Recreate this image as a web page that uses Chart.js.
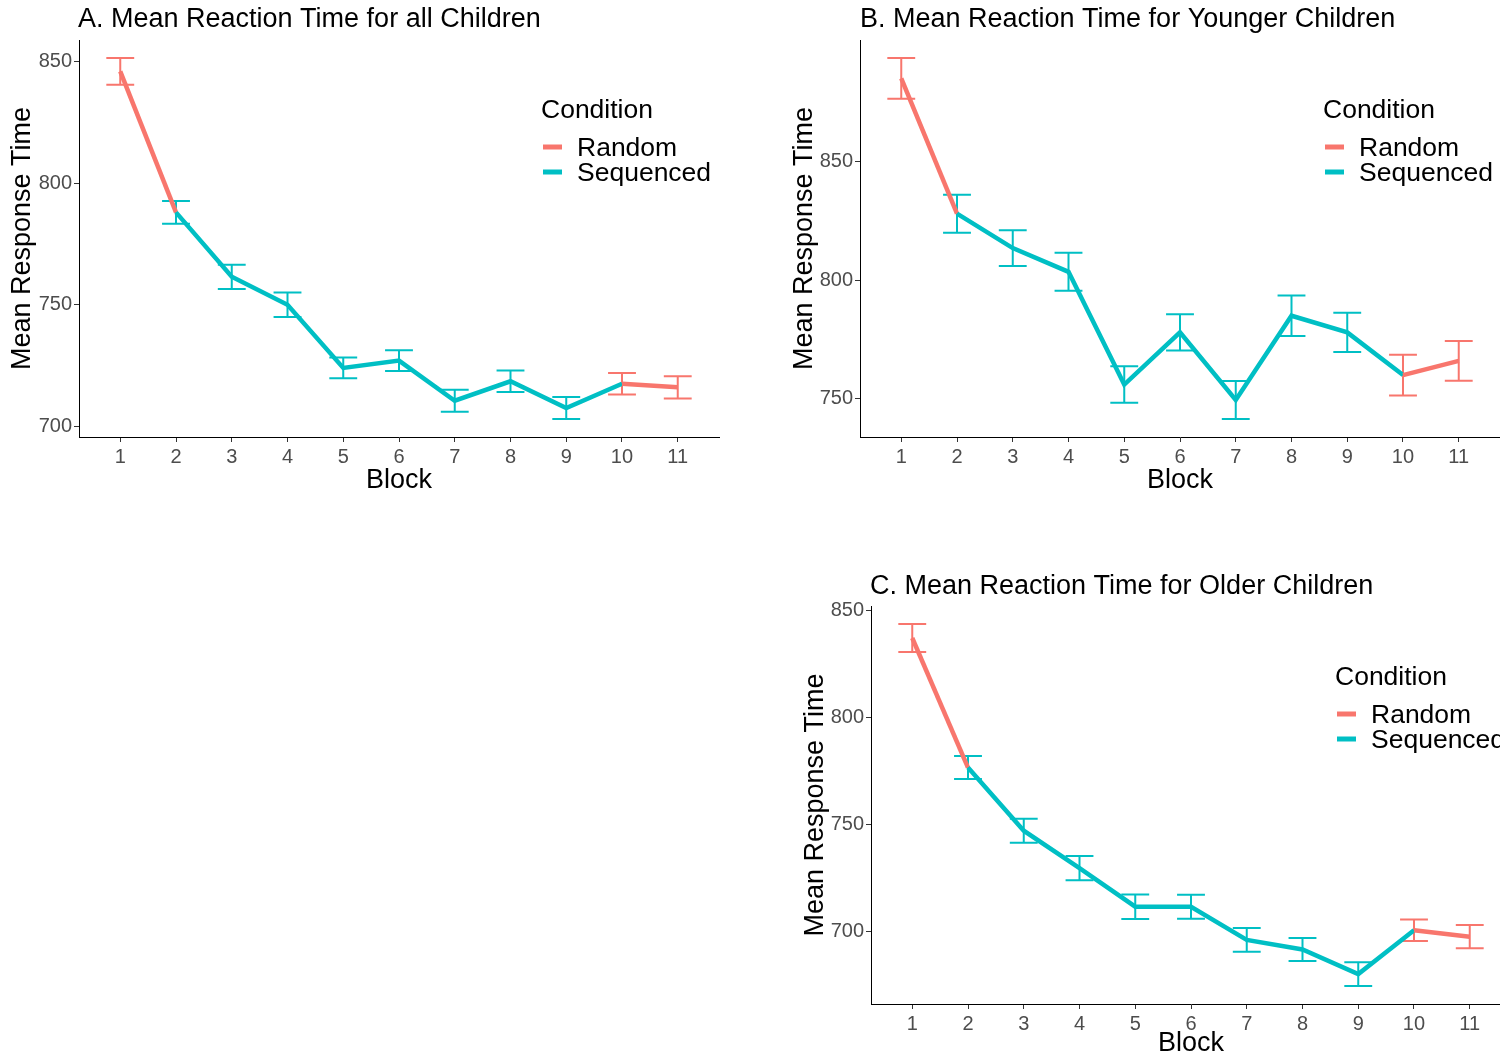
<!DOCTYPE html>
<html>
<head>
<meta charset="utf-8">
<script src="https://cdn.jsdelivr.net/npm/chart.js@4.4.1/dist/chart.umd.min.js"></script>
<style>
  html, body { margin: 0; padding: 0; background: #fff; overflow: hidden; }
  body { width: 1500px; height: 1060px; position: relative; }
  canvas { position: absolute; }
</style>
</head>
<body>
<canvas id="chartA" width="740" height="500" style="left:0px;top:0px;width:740px;height:500px"></canvas>
<canvas id="chartB" width="720" height="500" style="left:780px;top:0px;width:720px;height:500px"></canvas>
<canvas id="chartC" width="740" height="500" style="left:790px;top:560px;width:740px;height:500px"></canvas>
<script>
const blocks = [1, 2, 3, 4, 5, 6, 7, 8, 9, 10, 11]
const condition = ["Random", "Sequenced", "Sequenced", "Sequenced", "Sequenced", "Sequenced",
  "Sequenced", "Sequenced", "Sequenced", "Random", "Random"]

// A. all children
const allMean = [846, 788, 761.5, 750, 724, 727, 710.5, 718.5, 707.5, 717.5, 716]
const allSE = [5.5, 4.7, 5, 5, 4.3, 4.3, 4.5, 4.4, 4.5, 4.4, 4.6]
const allTicks = [700, 750, 800, 850]

// B. younger children
const youngerMean = [885, 828, 813.5, 803.5, 756, 778, 749.5, 785, 778, 760, 766]
const youngerSE = [8.6, 8, 7.5, 8, 7.7, 7.6, 8, 8.5, 8.3, 8.6, 8.4]
const youngerTicks = [750, 800, 850]

// C. older children
const olderMean = [837, 776.5, 747, 729.5, 711.5, 711.5, 696, 691.5, 680, 700.5, 697.5]
const olderSE = [6.5, 5.4, 5.6, 5.7, 5.7, 5.6, 5.5, 5.4, 5.5, 5, 5.4]
const olderTicks = [700, 750, 800, 850]

const conditionColors = { Random: "#F8766D", Sequenced: "#00BFC4" }
const FONT = "'Liberation Sans', Arial, sans-serif"

const ggExtras = {
  id: "ggExtras",
  beforeDatasetsDraw(chart) {
    const { ctx, scales: { x, y } } = chart
    const ds = chart.data.datasets[0]
    ctx.save()
    ctx.lineWidth = 2
    ds.data.forEach((p, i) => {
      const se = ds.se[i]
      const xc = x.getPixelForValue(p.x)
      const x0 = x.getPixelForValue(p.x - 0.25)
      const x1 = x.getPixelForValue(p.x + 0.25)
      const yt = y.getPixelForValue(p.y + se)
      const yb = y.getPixelForValue(p.y - se)
      ctx.strokeStyle = conditionColors[condition[i]]
      ctx.beginPath()
      ctx.moveTo(x0, yt); ctx.lineTo(x1, yt)
      ctx.moveTo(xc, yt); ctx.lineTo(xc, yb)
      ctx.moveTo(x0, yb); ctx.lineTo(x1, yb)
      ctx.stroke()
    })
    ctx.restore()
  },
  afterDraw(chart, args, opts) {
    const { ctx } = chart
    ctx.save()
    ctx.fillStyle = "#000"
    ctx.textBaseline = "middle"
    ctx.textAlign = "left"
    ctx.font = "27px " + FONT
    ctx.fillText(opts.title, opts.titleX, opts.titleY)

    ctx.font = "26.5px " + FONT
    ctx.fillText("Condition", opts.legendX, opts.legendY)
    Object.keys(conditionColors).forEach((name, i) => {
      const ly = opts.legendY + 38 + i * 25
      ctx.strokeStyle = conditionColors[name]
      ctx.lineWidth = 5
      ctx.beginPath()
      ctx.moveTo(opts.legendX + 2, ly - 2)
      ctx.lineTo(opts.legendX + 21, ly - 2)
      ctx.stroke()
      ctx.fillText(name, opts.legendX + 36, ly)
    })
    ctx.restore()
  }
}

function makeChart(id, mean, se, ticks, cfg) {
  const lo = Math.min(...mean.map((m, i) => m - se[i]))
  const hi = Math.max(...mean.map((m, i) => m + se[i]))
  const pad = (hi - lo) * 0.05
  const el = document.getElementById(id)
  const W = el.width, H = el.height

  return new Chart(el.getContext("2d"), {
    type: "line",
    data: {
      datasets: [{
        data: blocks.map((b, i) => ({ x: b, y: mean[i] })),
        se: se,
        borderWidth: 4.5,
        borderColor: conditionColors.Sequenced,
        pointRadius: 0,
        tension: 0,
        segment: {
          borderColor: c => conditionColors[condition[c.p0DataIndex]]
        }
      }]
    },
    options: {
      responsive: false,
      animation: false,
      layout: { padding: { top: cfg.top, right: W - cfg.right, left: 0, bottom: 0 } },
      plugins: {
        legend: { display: false },
        tooltip: { enabled: false },
        title: { display: false },
        ggExtras: cfg.extras
      },
      scales: {
        x: {
          type: "linear",
          min: 0.26,
          max: 11.74,
          afterBuildTicks: s => { s.ticks = blocks.map(v => ({ value: v })) },
          afterFit: s => { s.height = H - cfg.bottom },
          ticks: { color: "#4D4D4D", font: { family: FONT, size: 20 }, padding: 3 },
          grid: { drawOnChartArea: false, tickLength: 5, tickColor: "#333", tickWidth: 1 },
          border: { color: "#000", width: 1 },
          title: { display: true, text: "Block", color: "#000", font: { family: FONT, size: 27 }, padding: { top: 0, bottom: cfg.xTitlePad } }
        },
        y: {
          min: lo - pad,
          max: hi + pad,
          afterBuildTicks: s => { s.ticks = ticks.map(v => ({ value: v })) },
          afterFit: s => { s.width = cfg.left },
          ticks: { color: "#4D4D4D", font: { family: FONT, size: 20 }, padding: 2 },
          grid: { drawOnChartArea: false, tickLength: 5, tickColor: "#333", tickWidth: 1 },
          border: { color: "#000", width: 1 },
          title: { display: true, text: "Mean Response Time", color: "#000", font: { family: FONT, size: 27 }, padding: { top: cfg.yTitlePad, bottom: 0 } }
        }
      }
    },
    plugins: [ggExtras]
  })
}

makeChart("chartA", allMean, allSE, allTicks, {
  left: 79, right: 719, top: 40, bottom: 437, xTitlePad: 3, yTitlePad: 6,
  extras: { title: "A. Mean Reaction Time for all Children", titleX: 78, titleY: 20, legendX: 541, legendY: 111 }
})

makeChart("chartB", youngerMean, youngerSE, youngerTicks, {
  left: 80, right: 720, top: 40, bottom: 437, xTitlePad: 3, yTitlePad: 8,
  extras: { title: "B. Mean Reaction Time for Younger Children", titleX: 80, titleY: 20, legendX: 543, legendY: 111 }
})

makeChart("chartC", olderMean, olderSE, olderTicks, {
  left: 81, right: 721, top: 46, bottom: 444, xTitlePad: 0, yTitlePad: 9,
  extras: { title: "C. Mean Reaction Time for Older Children", titleX: 80, titleY: 27, legendX: 545, legendY: 118 }
})
</script>
</body>
</html>
